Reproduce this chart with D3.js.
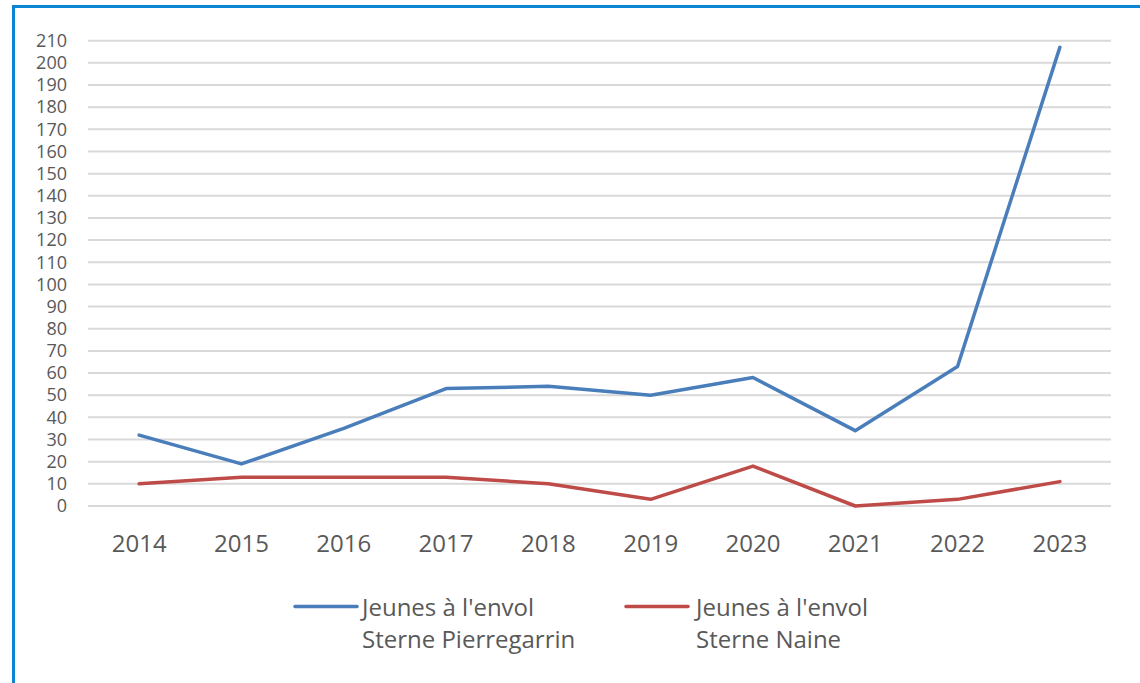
<!DOCTYPE html>
<html><head><meta charset="utf-8">
<script src="https://cdn.jsdelivr.net/npm/d3@7"></script>
<style>body{margin:0;background:#fff}svg{display:block}</style>
</head><body>
<svg id="c" width="1140" height="683"></svg>
<script>
const years = ["2014","2015","2016","2017","2018","2019","2020","2021","2022","2023"];
const pierregarrin = [32, 19, 35, 53, 54, 50, 58, 34, 63, 207];
const naine = [10, 13, 13, 13, 10, 3, 18, 0, 3, 11];
const yTicks = d3.range(0, 211, 10);
const seriesNames = [["Jeunes à l'envol","Sterne Pierregarrin"],["Jeunes à l'envol","Sterne Naine"]];
const colors = ["#4a7ebb","#be4b48"];

const svg = d3.select("#c");
svg.append("rect").attr("x",13.5).attr("y",6.5).attr("width",1200).attr("height",800)
  .attr("fill","none").attr("stroke","#0b86d4").attr("stroke-width",3);

const x = d3.scaleBand().domain(years).range([88,1111]);
const y = d3.scaleLinear().domain([0,210]).range([506,40.7]);
const font = "'Open Sans', sans-serif";

const g = svg.append("g");
g.selectAll("line.grid").data(yTicks).join("line").attr("class","grid")
  .attr("x1",88).attr("x2",1111).attr("y1",d=>y(d)).attr("y2",d=>y(d))
  .attr("stroke","#d9d9d9").attr("stroke-width",2);

const yAxis = g.append("g").attr("transform","translate(88,0)")
  .call(d3.axisLeft(y).tickValues(yTicks).tickSize(0).tickPadding(21));
yAxis.select(".domain").remove();
yAxis.selectAll("text").attr("font-family",font).attr("font-size",18).attr("fill","#595959");

const xAxis = g.append("g").attr("transform","translate(0,506)")
  .call(d3.axisBottom(x).tickSize(0).tickPadding(29));
xAxis.select(".domain").remove();
xAxis.selectAll("text").attr("font-family",font).attr("font-size",24).attr("fill","#595959");

const line = d3.line().x((d,i)=>x(years[i])+x.bandwidth()/2).y(d=>y(d));
[pierregarrin, naine].forEach((s,i)=>{
  g.append("path").datum(s).attr("d",line).attr("fill","none")
    .attr("stroke",colors[i]).attr("stroke-width",3.5).attr("stroke-linecap","round").attr("stroke-linejoin","round");
});

const legX = [295, 626];
seriesNames.forEach((n,i)=>{
  const lg = svg.append("g").attr("transform",`translate(${legX[i]},0)`);
  lg.append("line").attr("x1",0).attr("x2",62).attr("y1",606.5).attr("y2",606.5)
    .attr("stroke",colors[i]).attr("stroke-width",3.5).attr("stroke-linecap","round");
  const t = lg.append("text").attr("font-family",font).attr("font-size",24).attr("fill","#595959");
  t.append("tspan").attr("x",i?70:67).attr("y",616).text(n[0]);
  t.append("tspan").attr("x",i?70:67).attr("y",648).text(n[1]);
});
</script>
</body></html>
